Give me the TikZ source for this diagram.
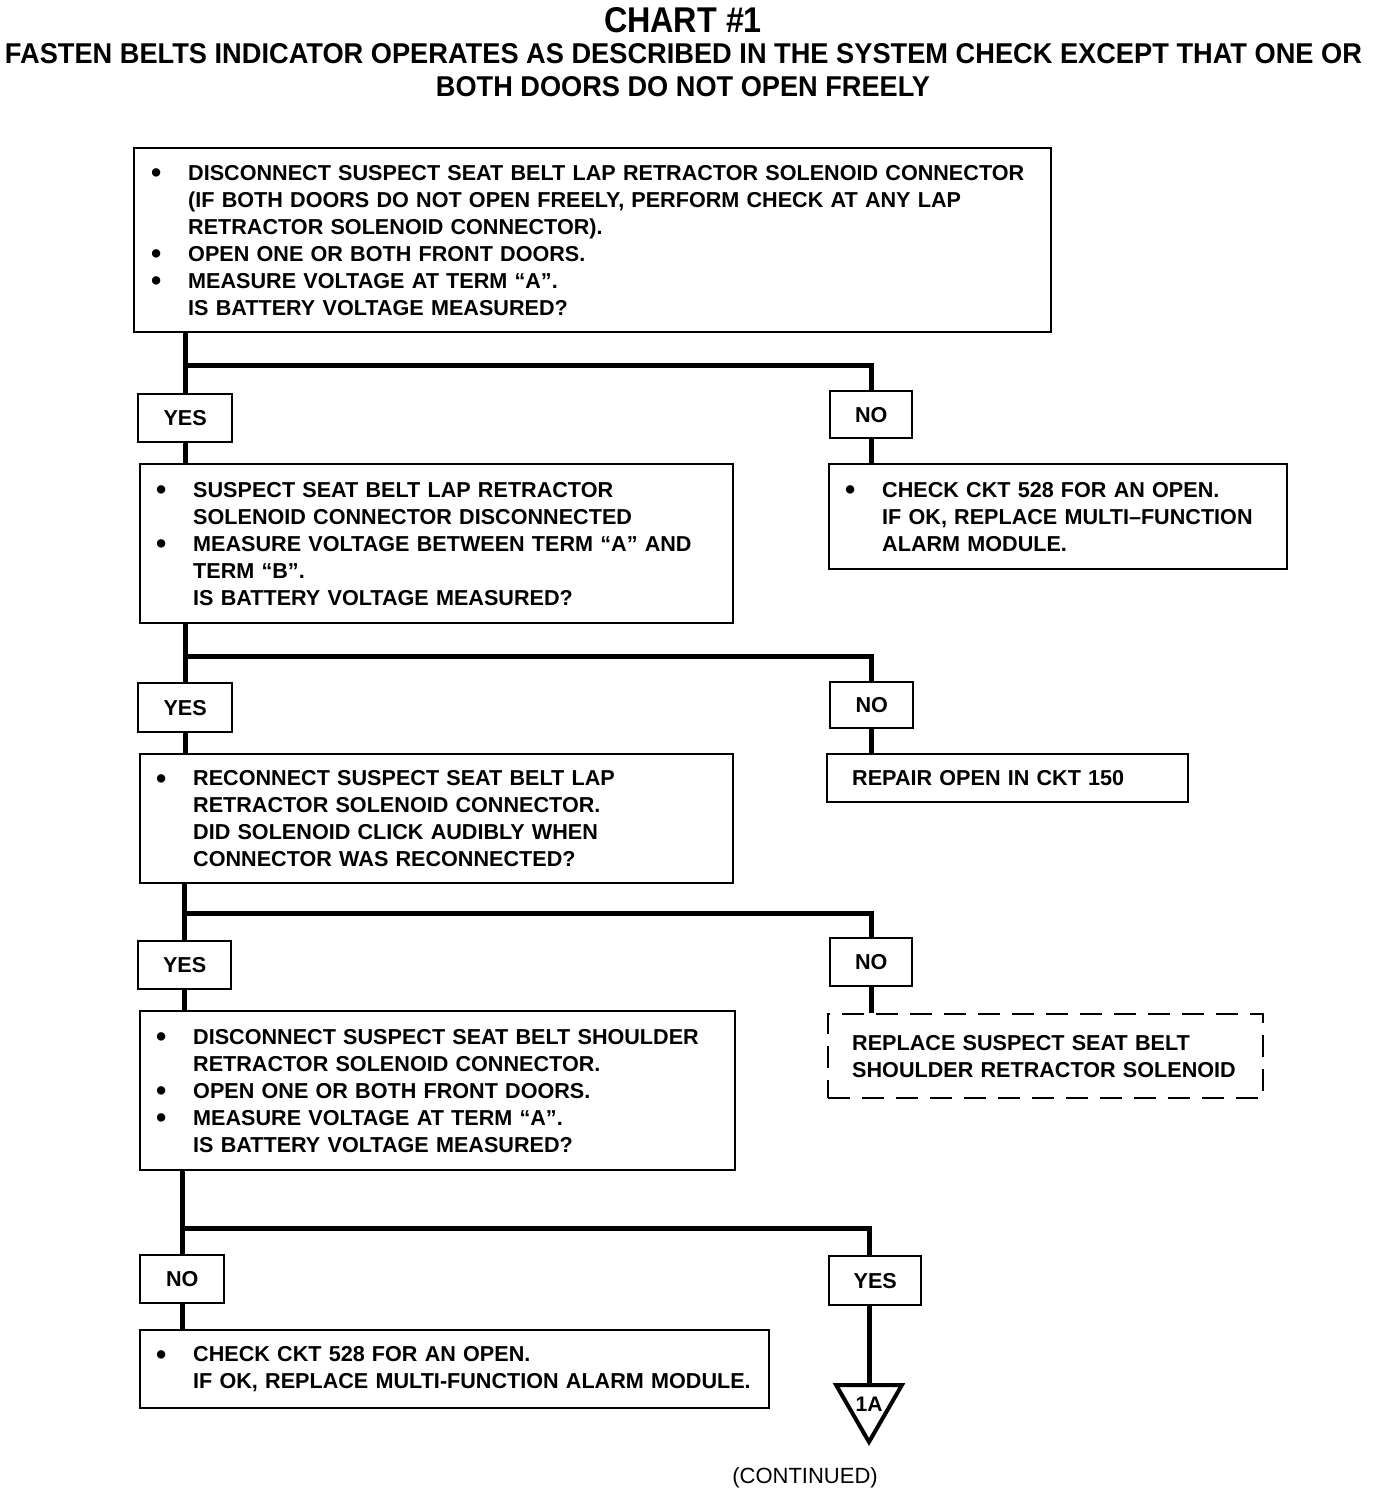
\documentclass[tikz,border=0pt]{standalone}
\usepackage{fontspec}
\usepackage{graphicx}
\setmainfont{Liberation Sans}
\usetikzlibrary{shapes.geometric}
\newcommand{\bul}{\leavevmode\llap{\makebox[18.5pt][l]{\raisebox{-1.3pt}{\scalebox{1.35}{\textbullet}}}}}
\tikzset{
  every node/.style={font=\bfseries\fontsize{10.8}{13.5}\selectfont},
  box/.style={draw, line width=1.2pt, anchor=north west, inner xsep=0pt, inner ysep=0pt, align=left},
  dbox/.style={box, dash pattern=on 11pt off 6pt},
  tag/.style={draw, line width=1.2pt, anchor=north west, inner sep=0pt},
  conn/.style={line width=2.5pt},
  titlefont/.style={font=\bfseries, inner sep=0pt},
}
\begin{document}
\begin{tikzpicture}[x=0.5pt,y=-0.5pt]
\useasboundingbox (0,0) rectangle (1376,1494);

% titles
\node[titlefont] (title) at (683,20.5) {\resizebox{79pt}{12.5pt}{\fontsize{17.5}{18}\selectfont CHART \#1}};
\node[titlefont] (sub1) at (683.5,54) {\resizebox{678.5pt}{10pt}{\fontsize{14}{14}\selectfont FASTEN BELTS INDICATOR OPERATES AS DESCRIBED IN THE SYSTEM CHECK EXCEPT THAT ONE OR}};
\node[titlefont] (sub2) at (683,87) {\resizebox{247pt}{10pt}{\fontsize{14}{14}\selectfont BOTH DOORS DO NOT OPEN FREELY}};

% level 1
\node[box, text width=458.5pt, minimum height=92pt] (B1) at (133,147) {\leftskip=27pt
\bul DISCONNECT SUSPECT SEAT BELT LAP RETRACTOR SOLENOID CONNECTOR\\
(IF BOTH DOORS DO NOT OPEN FREELY, PERFORM CHECK AT ANY LAP\\
RETRACTOR SOLENOID CONNECTOR).\\
\bul OPEN ONE OR BOTH FRONT DOORS.\\
\bul MEASURE VOLTAGE AT TERM “A”.\\
IS BATTERY VOLTAGE MEASURED?\par};

\node[tag, minimum width=47pt, minimum height=24pt] (YES1) at (137,393) {YES};
\node[tag, minimum width=41pt, minimum height=23.5pt] (NO1) at (829,390) {NO};

% level 2
\node[box, text width=296.5pt, minimum height=79.5pt] (B2) at (139,463) {\leftskip=26.5pt
\bul SUSPECT SEAT BELT LAP RETRACTOR\\
SOLENOID CONNECTOR DISCONNECTED\\
\bul MEASURE VOLTAGE BETWEEN TERM “A” AND\\
TERM “B”.\\
IS BATTERY VOLTAGE MEASURED?\par};

\node[box, text width=229pt, minimum height=52.5pt] (R1) at (828,463) {\leftskip=26.5pt
\bul CHECK CKT 528 FOR AN OPEN.\\
IF OK, REPLACE MULTI–FUNCTION\\
ALARM MODULE.\par};

\node[tag, minimum width=47pt, minimum height=24.5pt] (YES2) at (137,682) {YES};
\node[tag, minimum width=41.5pt, minimum height=23pt] (NO2) at (829,681) {NO};

% level 3
\node[box, text width=296.5pt, minimum height=64.5pt] (B3) at (139,753) {\leftskip=26.5pt
\bul RECONNECT SUSPECT SEAT BELT LAP\\
RETRACTOR SOLENOID CONNECTOR.\\
DID SOLENOID CLICK AUDIBLY WHEN\\
CONNECTOR WAS RECONNECTED?\par};

\node[box, text width=180.5pt, minimum height=24pt] (R2) at (826,753) {\leftskip=12.5pt
REPAIR OPEN IN CKT 150\par};

\node[tag, minimum width=46.5pt, minimum height=24pt] (YES3) at (137,940) {YES};
\node[tag, minimum width=41pt, minimum height=24pt] (NO3) at (829,937) {NO};

% level 4
\node[box, text width=297.5pt, minimum height=79.5pt] (B4) at (139,1010) {\leftskip=26.5pt
\bul DISCONNECT SUSPECT SEAT BELT SHOULDER\\
RETRACTOR SOLENOID CONNECTOR.\\
\bul OPEN ONE OR BOTH FRONT DOORS.\\
\bul MEASURE VOLTAGE AT TERM “A”.\\
IS BATTERY VOLTAGE MEASURED?\par};

\node[dbox, text width=217.5pt, minimum height=42pt] (R3) at (827,1013) {\leftskip=12pt
REPLACE SUSPECT SEAT BELT\\
SHOULDER RETRACTOR SOLENOID\par};

\node[tag, minimum width=42pt, minimum height=24pt] (NO4) at (139,1254) {NO};
\node[tag, minimum width=46pt, minimum height=24.5pt] (YES4) at (828,1255) {YES};

% level 5
\node[box, text width=314.5pt, minimum height=39pt] (B5) at (139,1329) {\leftskip=26.5pt
\bul CHECK CKT 528 FOR AN OPEN.\\
IF OK, REPLACE MULTI-FUNCTION ALARM MODULE.\par};

\node[regular polygon, regular polygon sides=3, shape border rotate=180, draw, line width=2pt,
      minimum size=37pt, inner sep=0pt, font=\bfseries\fontsize{10.5}{10.5}\selectfont] (tri) at (869,1404) {1A};

\node[font=\fontsize{11}{13}\selectfont, anchor=base, inner sep=0pt] (cont) at (805,1483) {(CONTINUED)};

% junction levels
\coordinate (J1) at (0,365);
\coordinate (J2) at (0,656);
\coordinate (J3) at (0,913);
\coordinate (J4) at (0,1228);

% connectors
\draw[conn] (B1.south -| YES1.north) -- (YES1.north);
\draw[conn] (J1 -| YES1.north) -| (NO1.north);
\draw[conn] (YES1.south) -- (YES1.south |- B2.north);
\draw[conn] (NO1.south) -- (NO1.south |- R1.north);

\draw[conn] (B2.south -| YES2.north) -- (YES2.north);
\draw[conn] (J2 -| YES2.north) -| (NO2.north);
\draw[conn] (YES2.south) -- (YES2.south |- B3.north);
\draw[conn] (NO2.south) -- (NO2.south |- R2.north);

\draw[conn] (B3.south -| YES3.north) -- (YES3.north);
\draw[conn] (J3 -| YES3.north) -| (NO3.north);
\draw[conn] (YES3.south) -- (YES3.south |- B4.north);
\draw[conn] (NO3.south) -- (NO3.south |- R3.north);

\draw[conn] (B4.south -| NO4.north) -- (NO4.north);
\draw[conn] (J4 -| NO4.north) -| (tri.north |- YES4.north);
\draw[conn] (NO4.south) -- (NO4.south |- B5.north);
\draw[conn] (tri.north |- YES4.south) -- (tri.north);
\end{tikzpicture}
\end{document}
